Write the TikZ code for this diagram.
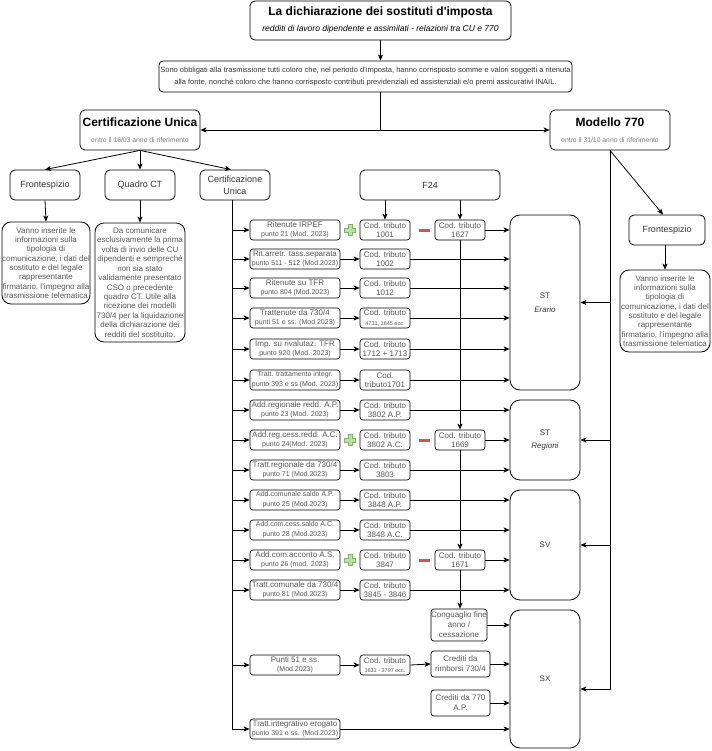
\documentclass[tikz,border=0pt]{standalone}
\usepackage{fontspec}
\setmainfont{Liberation Sans}
\usetikzlibrary{arrows.meta,calc}
\definecolor{tx}{HTML}{333333}
\definecolor{tx2}{HTML}{555555}
\definecolor{subc}{HTML}{777777}
\definecolor{plusg}{HTML}{82B366}
\definecolor{plusf}{HTML}{B9E0A5}
\definecolor{minr}{HTML}{C8585A}
\newcommand{\fsz}[2]{\fontsize{#1}{#2}\selectfont}
\tikzset{
  arr/.style={-{Stealth[length=6pt,width=5pt,inset=1.5pt]}, line width=0.8pt},
  ln/.style={line width=0.8pt},
  bx/.style={draw=black, line width=0.8pt, rounded corners=5pt, align=center, inner sep=0pt, text=tx},
  rbox/.style={bx, rounded corners=3pt, minimum width=90pt, minimum height=20pt, line width=0.7pt, text=tx2, font=\fsz{8}{9.5}},
  cbox/.style={rbox, minimum width=50pt},
  stbox/.style={bx, rounded corners=10pt, minimum width=70pt, font=\fsz{8}{13.5}},
  pplus/.pic={\path[draw=plusg, fill=plusf, line width=0.5pt] (-1.8,-5.5) -- (1.8,-5.5) -- (1.8,-1.8) -- (5.5,-1.8) -- (5.5,1.8) -- (1.8,1.8) -- (1.8,5.5) -- (-1.8,5.5) -- (-1.8,1.8) -- (-5.5,1.8) -- (-5.5,-1.8) -- (-1.8,-1.8) -- cycle;},
  pminus/.pic={\fill[minr] (-5.5,-1.5) rectangle (5.5,1.5);}
}
\begin{document}
\begin{tikzpicture}[x=1pt,y=-1pt]
\useasboundingbox (0,0) rectangle (711,751);

% ---------- top
\node[bx, minimum width=261pt, minimum height=39pt, font=\fsz{12}{16}, text=black] (title) at (380.5,20.5)
  {{\bfseries La dichiarazione dei sostituti d\textquotesingle imposta}\\{\fsz{8.5}{10}\itshape redditi di lavoro dipendente e assimilati - relazioni tra CU e 770}};
\node[bx, minimum width=413pt, minimum height=31pt, rounded corners=4pt, font=\fsz{7.5}{11.5}] (intro) at (365.5,76.5)
  {Sono obbligati alla trasmissione tutti coloro che, nel periodo d’imposta, hanno corrisposto somme e valori soggetti a ritenuta\\alla fonte, nonché coloro che hanno corrisposto contributi previdenziali ed assistenziali e/o premi assicurativi INAIL.};
\draw[arr] (title.south) -- (title.south |- intro.north);

\node[bx, minimum width=120pt, minimum height=40pt, font=\fsz{12}{16}, text=black] (cu) at (140,130)
  {{\bfseries Certificazione Unica}\\{\fsz{6.8}{8}\color{subc}entro il 16/03 anno di riferimento}};
\node[bx, minimum width=120pt, minimum height=40pt, font=\fsz{12}{16}, text=black] (m770) at (610,130)
  {{\bfseries Modello 770}\\{\fsz{6.8}{8}\color{subc}entro il 31/10 anno di riferimento}};
\coordinate (hj) at (380,130);
\draw[ln] (intro.south -| hj) -- (hj);
\draw[arr] (hj) -- (cu.east);
\draw[arr] (hj) -- (m770.west);

% ---------- CU children
\node[bx, minimum width=70pt, minimum height=30pt, font=\fsz{9}{12}] (fr1) at (45,185) {Frontespizio};
\node[bx, minimum width=70pt, minimum height=30pt, font=\fsz{9}{12}] (qct) at (140,185) {Quadro CT};
\node[bx, minimum width=70pt, minimum height=30pt, font=\fsz{9}{12}] (cu2) at (235,185) {Certificazione\\Unica};
\draw[arr] (cu.south) -- (fr1.north);
\draw[arr] (cu.south) -- (qct.north);
\draw[arr] (cu.south) -- ([xshift=-4pt]cu2.north);

\node[bx, rounded corners=9pt, minimum width=88pt, minimum height=82pt, font=\fsz{8}{9.3}, text=tx2] (van1) at (46,263)
  {Vanno inserite le\\informazioni sulla\\tipologia di\\comunicazione, i dati del\\sostituto e del legale\\rappresentante\\firmatario, l’impegno alla\\trasmissione telematica};
\node[bx, rounded corners=9pt, minimum width=90pt, minimum height=119pt, font=\fsz{8}{9.45}, text=tx2] (qctx) at (140,282.5)
  {Da comunicare\\esclusivamente la prima\\volta di invio delle CU\\dipendenti e sempreché\\non sia stato\\validamente presentato\\CSO o precedente\\quadro CT. Utile alla\\ricezione dei modelli\\730/4 per la liquidazione\\della dichiarazione dei\\redditi del sostituito.};
\draw[arr] (fr1.south) -- (van1.north);
\draw[arr] (qct.south) -- (qctx.north);

% ---------- 770 children
\node[bx, minimum width=76pt, minimum height=30pt, font=\fsz{9}{12}] (fr2) at (667,230) {Frontespizio};
\node[bx, rounded corners=9pt, minimum width=90pt, minimum height=82pt, font=\fsz{8}{9.3}, text=tx2] (van2) at (665,311)
  {Vanno inserite le\\informazioni sulla\\tipologia di\\comunicazione, i dati del\\sostituto e del legale\\rappresentante\\firmatario, l’impegno alla\\trasmissione telematica};
\draw[arr] (m770.south) -- ([xshift=-4pt]fr2.north);
\draw[arr] (fr2.south -| van2.north) -- (van2.north);

% ---------- F24 and ST boxes
\node[bx, minimum width=140pt, minimum height=30pt, font=\fsz{9}{12}] (f24) at (430,185) {F24};
\node[stbox, minimum height=175pt] (st1) at (545,302.5) {ST\\\textit{Erario}};
\node[stbox, minimum height=80pt] (st2) at (545,440) {ST\\\textit{Regioni}};
\node[stbox, minimum height=110pt] (sv) at (545,545) {SV};
\node[stbox, minimum height=138pt] (sx) at (545,679) {SX};

% right trunk
\coordinate (sxin) at ($(sx.east)+(0,10)$);
\draw[arr] (m770.south) |- (sxin);
\draw[arr] (m770.south |- st1.east) -- (st1.east);
\draw[arr] (m770.south |- st2.east) -- (st2.east);
\draw[arr] (m770.south |- sv.east) -- (sv.east);

% ---------- rows
\node[rbox] (r1) at (295,230) {Ritenute IRPEF\\{\fsz{7}{8}punto 21 (Mod. 2023)}};
\node[cbox] (c1) at (385,230) {Cod. tributo\\1001};
\node[cbox] (t1) at (460,230) {Cod. tributo\\1627};

\node[rbox] (r2) at (295,259) {Rit.arretr. tass.separata\\{\fsz{7}{8}punto 511 - 512 (Mod.2023)}};
\node[cbox] (c2) at (385,259) {Cod. tributo\\1002};

\node[rbox] (r3) at (295,288) {Ritenute su TFR\\{\fsz{7}{8}punto 804 (Mod.2023)}};
\node[cbox] (c3) at (385,288) {Cod. tributo\\1012};

\node[rbox] (r4) at (295,318) {Trattenute da 730/4\\{\fsz{7}{8}punti 51 e ss. (Mod.2023)}};
\node[cbox] (c4) at (385,318) {Cod. tributo\\{\fsz{5.5}{6}4731, 1845 ecc.}};

\node[rbox] (r5) at (295,349) {Imp. su rivalutaz. TFR\\{\fsz{7}{8}punto 920 (Mod. 2023)}};
\node[cbox] (c5) at (385,349) {Cod. tributo\\1712 + 1713};

\node[rbox, font=\fsz{7}{10}] (r6) at (295,380) {Tratt. trattamento integr.\\punto 393 e ss (Mod. 2023)};
\node[cbox] (c6) at (385,380) {Cod.\\tributo1701};

\node[rbox] (r7) at (295,410) {Add.regionale redd. A.P.\\{\fsz{7}{8}punto 23 (Mod. 2023)}};
\node[cbox] (c7) at (385,410) {Cod. tributo\\3802 A.P.};

\node[rbox] (r8) at (295,440) {Add.reg.cess.redd. A.C.\\{\fsz{7}{8}punto 24(Mod. 2023)}};
\node[cbox] (c8) at (385,440) {Cod. tributo\\3802 A.C.};
\node[cbox] (t8) at (460,440) {Cod. tributo\\1669};

\node[rbox] (r9) at (295,470) {Tratt.regionale da 730/4\\{\fsz{7}{8}punto 71 (Mod.2023)}};
\node[cbox] (c9) at (385,470) {Cod. tributo\\3803};

\node[rbox, font=\fsz{7}{10}] (r10) at (295,500) {Add.comunale saldo A.P.\\punto 25 (Mod.2023)};
\node[cbox] (c10) at (385,500) {Cod. tributo\\3848 A.P.};

\node[rbox, font=\fsz{7}{10}] (r11) at (295,530) {Add.com.cess.saldo A.C.\\punto 28 (Mod.2023)};
\node[cbox] (c11) at (385,530) {Cod. tributo\\3848 A.C.};

\node[rbox] (r12) at (295,560) {Add.com.acconto A.S.\\{\fsz{7}{8}punto 26 (mod. 2023)}};
\node[cbox] (c12) at (385,560) {Cod. tributo\\3847};
\node[cbox] (t12) at (460,560) {Cod. tributo\\1671};

\node[rbox] (r13) at (295,590) {Tratt.comunale da 730/4\\{\fsz{7}{8}punto 81 (Mod.2023)}};
\node[cbox] (c13) at (385,590) {Cod. tributo\\3845 - 3846};

\node[rbox, minimum width=56pt, minimum height=32pt, font=\fsz{8}{10}] (cong) at (459,625) {Conguaglio fine\\anno /\\cessazione};

\node[rbox] (r14) at (295,665) {Punti 51 e ss.\\{\fsz{7}{8}(Mod.2023)}};
\node[cbox] (c14) at (385,665) {Cod. tributo\\{\fsz{5.5}{6}1631 - 3797 ecc.}};
\node[rbox, minimum width=59pt, minimum height=26pt, font=\fsz{8}{10}] (crr) at (460.5,664) {Crediti da\\rimborsi 730/4};
\node[rbox, minimum width=59pt, minimum height=26pt, font=\fsz{8}{10}] (cr7) at (460.5,703) {Crediti da 770\\A.P.};

\node[rbox] (r15) at (295,729) {Tratt.integrativo erogato\\{\fsz{7}{8}punto 391 e ss. (Mod.2023)}};

% plus / minus signs
\pic at (350,230) {pplus};
\pic at (350,440) {pplus};
\pic at (350,560) {pplus};
\pic at (424,230) {pminus};
\pic at (424,440) {pminus};
\pic at (424,560) {pminus};

% ---------- left trunk
\coordinate (trk) at ([xshift=-3pt]cu2.south);
\draw[arr] (trk) |- (r15.west);
\foreach \r in {r1,r2,r3,r4,r5,r6,r7,r8,r9,r10,r11,r12,r13,r14}
  \draw[arr] (trk |- \r.west) -- (\r.west);

% row -> cod arrows
\foreach \n in {2,3,4,5,6,7,9,10,11,13,14}
  \draw[arr] (r\n.east) -- (c\n.west);

% F24 arrows
\draw[arr] (f24.south -| c1.north) -- (c1.north);
\draw[arr] (f24.south -| t1.north) -- (t1.north);
\draw[arr] (t1.south) -- (t8.north);
\draw[arr] (t8.south) -- (t12.north);
\draw[arr] (t12.south) -- (cong.north -| t12.south);

% to ST Erario
\draw[arr] (t1.east) -- (t1.east -| st1.west);
\foreach \n in {2,3,4,5,6}
  \draw[arr] (c\n.east) -- (c\n.east -| st1.west);
% to ST Regioni
\draw[arr] (c7.east) -- (c7.east -| st2.west);
\draw[arr] (t8.east) -- (t8.east -| st2.west);
\draw[arr] (c9.east) -- (c9.east -| st2.west);
% to SV
\draw[arr] (c10.east) -- (c10.east -| sv.west);
\draw[arr] (c11.east) -- (c11.east -| sv.west);
\draw[arr] (t12.east) -- (t12.east -| sv.west);
\draw[arr] (c13.east) -- (c13.east -| sv.west);
% to SX
\draw[arr] (cong.east) -- (cong.east -| sx.west);
\draw[arr] (c14.east) -- (crr.west);
\draw[arr] (crr.east) -- (crr.east -| sx.west);
\draw[arr] (cr7.east) -- (cr7.east -| sx.west);
\draw[arr] (r15.east) -- (r15.east -| sx.west);
\end{tikzpicture}
\end{document}
